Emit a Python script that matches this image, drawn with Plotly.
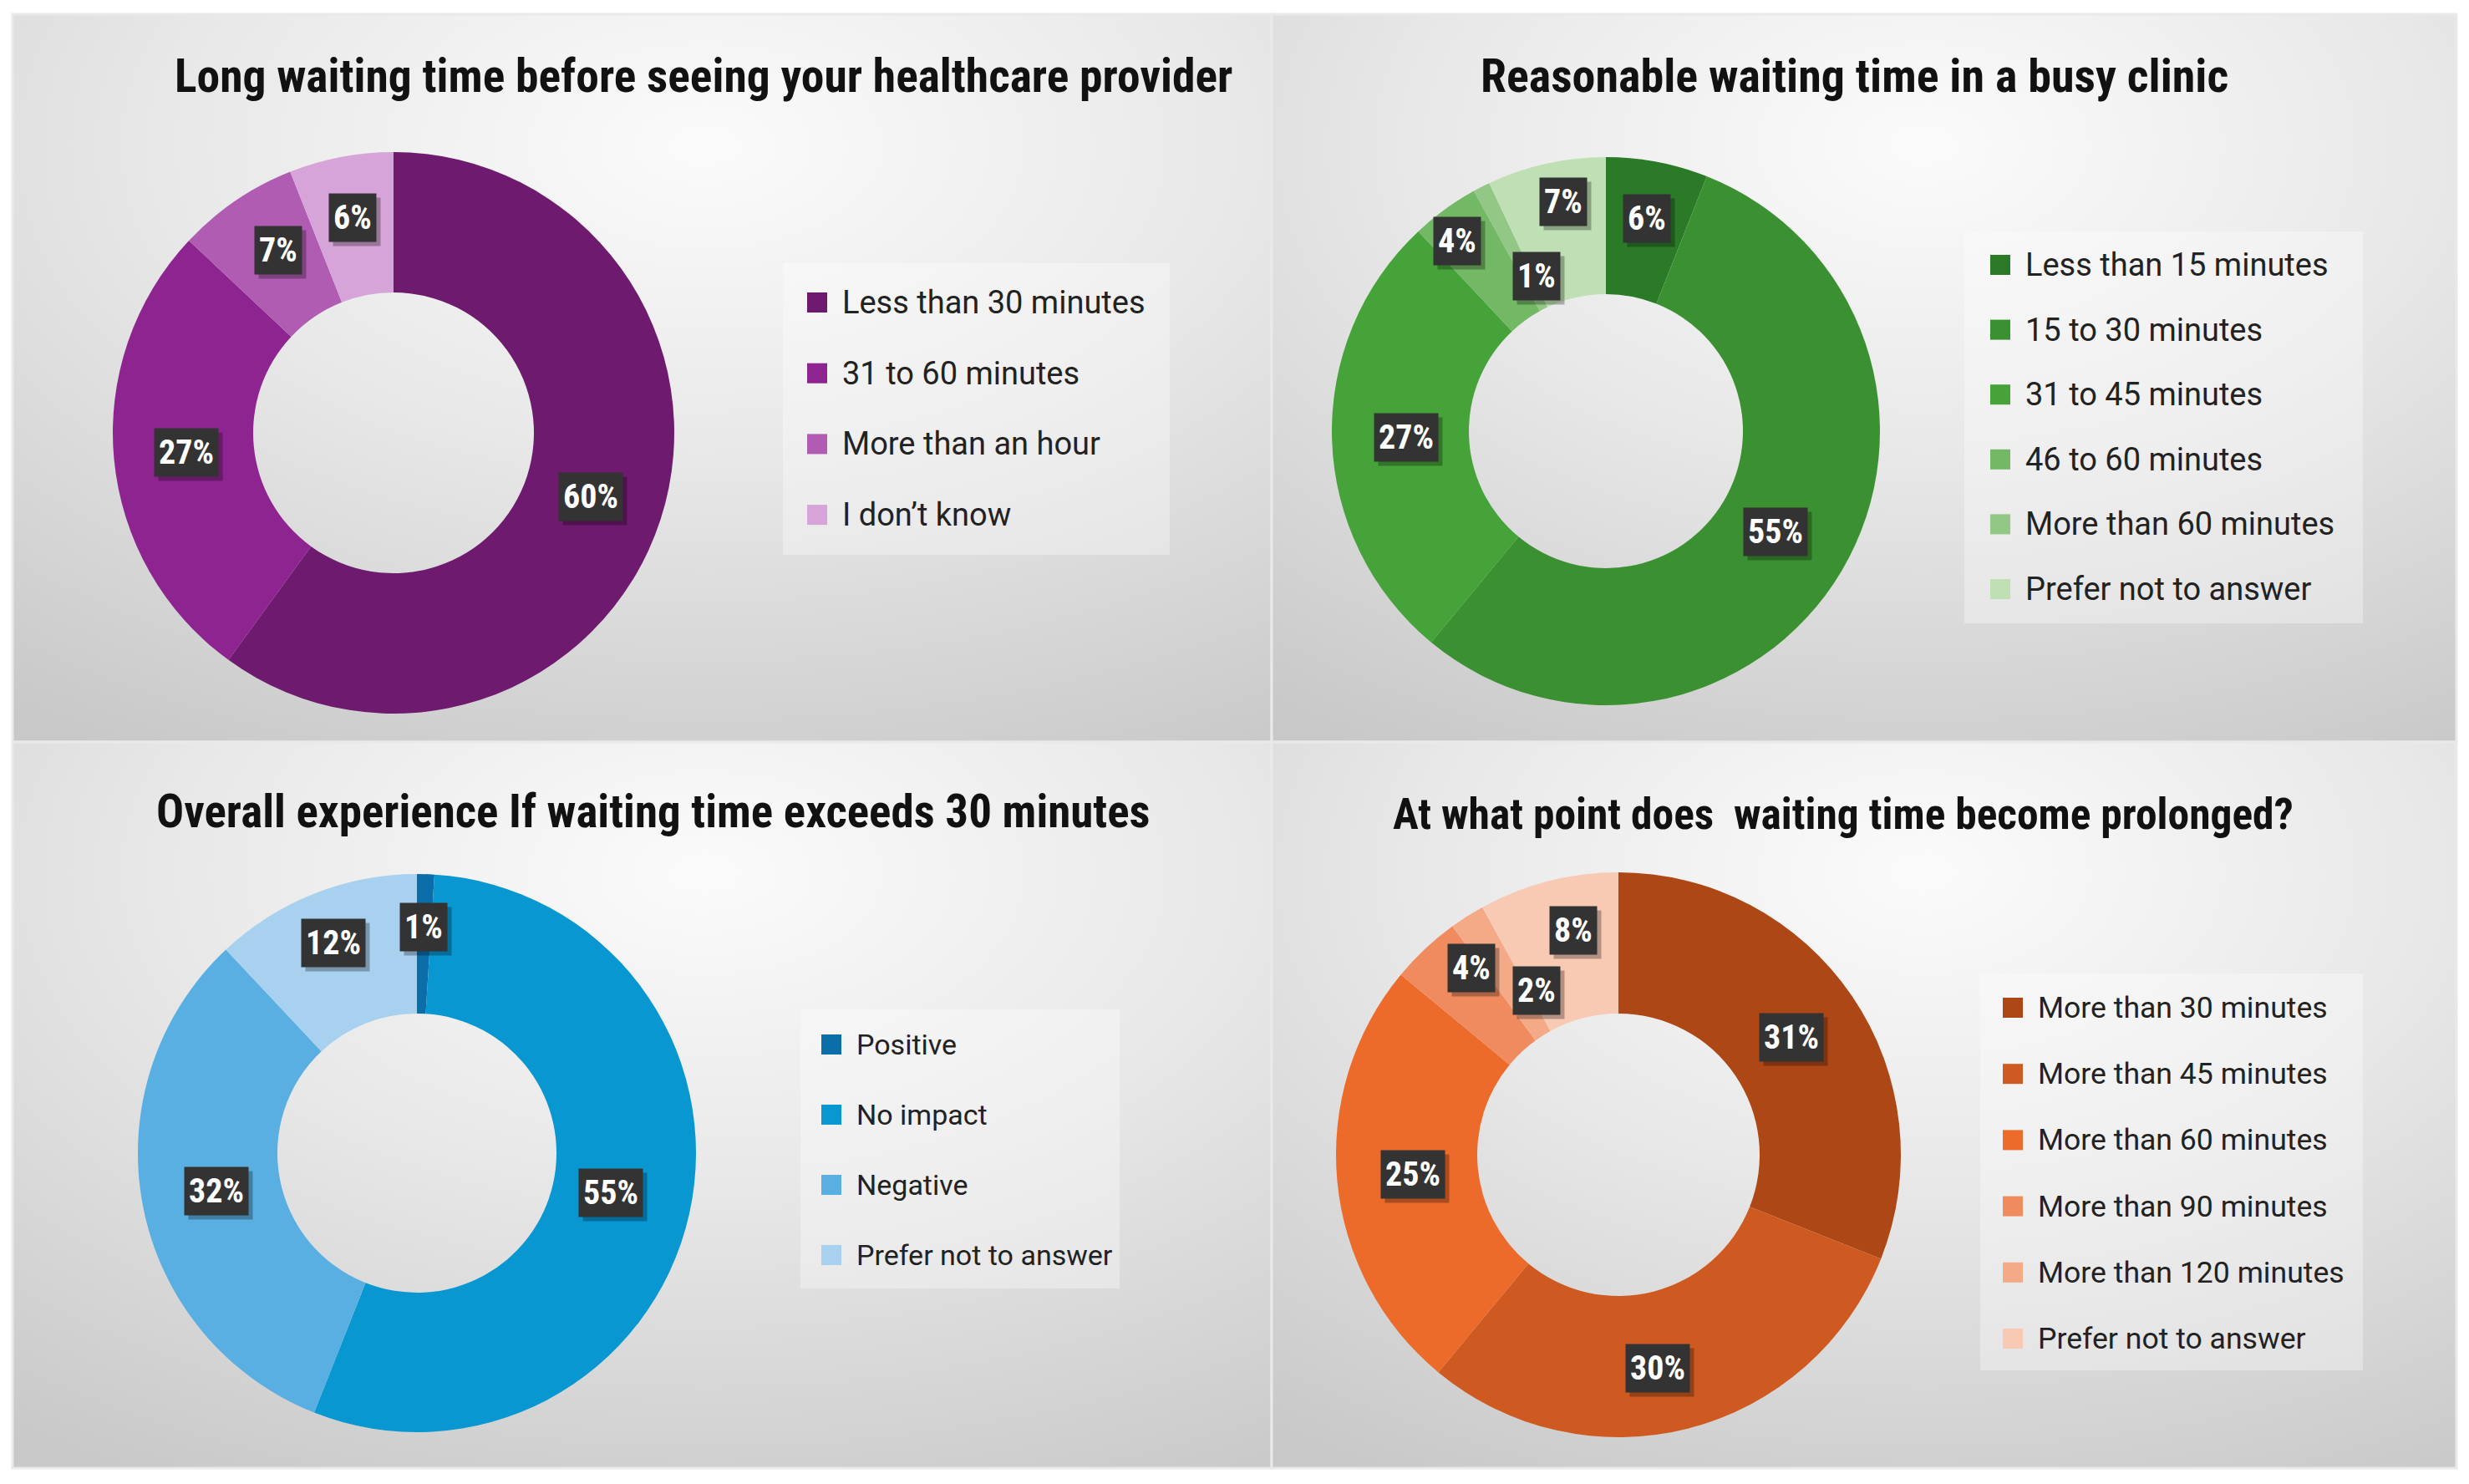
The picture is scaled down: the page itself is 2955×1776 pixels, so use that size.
import math
import base64
import plotly.graph_objects as go

W, H = 2955, 1776

# ---------------- data ----------------
title1 = "Long waiting time before seeing your healthcare provider"
labels1 = ["Less than 30 minutes", "31 to 60 minutes", "More than an hour", "I don\u2019t know"]
values1 = [60, 27, 7, 6]

title2 = "Reasonable waiting time in a busy clinic"
labels2 = ["Less than 15 minutes", "15 to 30 minutes", "31 to 45 minutes",
           "46 to 60 minutes", "More than 60 minutes", "Prefer not to answer"]
values2 = [6, 55, 27, 4, 1, 7]

title3 = "Overall experience If waiting time exceeds 30 minutes"
labels3 = ["Positive", "No impact", "Negative", "Prefer not to answer"]
values3 = [1, 55, 32, 12]

title4 = "At what point does  waiting time become prolonged?"
labels4 = ["More than 30 minutes", "More than 45 minutes", "More than 60 minutes",
           "More than 90 minutes", "More than 120 minutes", "Prefer not to answer"]
values4 = [31, 30, 25, 4, 2, 8]

# ---------------- styles ----------------
colors1 = ["#6e1a6e", "#8e2490", "#b05cb2", "#d6a4d8"]
colors2 = ["#2b7a28", "#3b9132", "#46a33a", "#72b865", "#92c786", "#bfe0b5"]
colors3 = ["#0b6ea9", "#0897d1", "#5aafe2", "#a8d0ef"]
colors4 = ["#ad4716", "#cf5a21", "#ec6a2a", "#f08b5f", "#f4a987", "#f8cab4"]

# label placement tweaks (radial factor of outer radius, angle offset in degrees)
nudge1 = [(0.74, 0), (0.74, 0), (0.77, 2), (0.78, 0)]
nudge2 = [(0.79, 0), (0.72, 0), (0.73, 0), (0.88, -2), (0.62, 3), (0.85, 2)]
nudge3 = [(0.81, 0), (0.71, -1), (0.73, 0), (0.81, 0)]
nudge4 = [(0.74, 0), (0.77, 4), (0.73, 0), (0.84, 5), (0.65, 6), (0.81, 3)]

panels = [
    dict(title=title1, labels=labels1, values=values1, colors=colors1, nudge=nudge1,
         cx=471, cy=518, r=336, tx=842, ty=91, tsize=55.5,
         box=(937, 315, 1400, 664), lx=978, ly0=362, ldy=84.7, lsize=38),
    dict(title=title2, labels=labels2, values=values2, colors=colors2, nudge=nudge2,
         cx=1922, cy=516, r=328, tx=2219, ty=91, tsize=56,
         box=(2351, 277, 2828, 746), lx=2394, ly0=317, ldy=77.6, lsize=38),
    dict(title=title3, labels=labels3, values=values3, colors=colors3, nudge=nudge3,
         cx=499, cy=1380, r=334, tx=782, ty=971, tsize=55,
         box=(958, 1208, 1340, 1542), lx=995, ly0=1250, ldy=84, lsize=34),
    dict(title=title4, labels=labels4, values=values4, colors=colors4, nudge=nudge4,
         cx=1937, cy=1382, r=338, tx=2206, ty=974, tsize=51.5,
         box=(2370, 1165, 2828, 1640), lx=2409, ly0=1206, ldy=79.2, lsize=35.6),
]

TITLE_FONT = "Liberation Sans Narrow, Roboto Condensed, Arial Narrow, DejaVu Sans Condensed, sans-serif"
LEGEND_FONT = "Roboto, Liberation Sans, sans-serif"
HOLE = 0.5


def px(x):
    return x / W


def py(y):
    return 1 - y / H


# ---------------- background (radial gradients per panel) ----------------
panel_rects = [(15, 17, 1522, 888), (1522, 17, 2940, 888),
               (15, 888, 1522, 1757), (1522, 888, 2940, 1757)]
svg = [f"<svg xmlns='http://www.w3.org/2000/svg' width='{W}' height='{H}' viewBox='0 0 {W} {H}'>",
       "<defs><radialGradient id='g' cx='0.55' cy='0.18' r='0.95'>"
       "<stop offset='0' stop-color='#fbfbfb'/><stop offset='0.45' stop-color='#e8e8e8'/>"
       "<stop offset='1' stop-color='#c8c8c8'/></radialGradient></defs>",
       f"<rect x='0' y='0' width='{W}' height='{H}' fill='#ffffff'/>"]
for (x0, y0, x1, y1) in panel_rects:
    svg.append(f"<rect x='{x0}' y='{y0}' width='{x1 - x0}' height='{y1 - y0}' fill='url(#g)' "
               f"stroke='#e9e9e9' stroke-width='3'/>")
svg.append("</svg>")
bg_uri = "data:image/svg+xml;base64," + base64.b64encode("".join(svg).encode()).decode()

fig = go.Figure()
annotations = []
shapes = []

for p in panels:
    cx, cy, r = p["cx"], p["cy"], p["r"]
    fig.add_trace(go.Pie(
        labels=p["labels"], values=p["values"],
        marker=dict(colors=p["colors"], line=dict(width=0)),
        hole=HOLE, sort=False, direction="clockwise", rotation=0,
        textinfo="none", showlegend=False, hoverinfo="label+percent",
        domain=dict(x=[px(cx - r), px(cx + r)], y=[py(cy + r), py(cy - r)]),
    ))

    # data labels in dark boxes
    total = sum(p["values"])
    cum = 0
    for v, (rf, dang) in zip(p["values"], p["nudge"]):
        mid = (cum + v / 2) / total * 360 + dang
        cum += v
        ang = math.radians(mid)
        lx = cx + rf * r * math.sin(ang)
        ly = cy - rf * r * math.cos(ang)
        txt = f"{round(v / total * 100)}%"
        common = dict(xref="paper", yref="paper", x=px(lx), y=py(ly), text=txt,
                      showarrow=False, borderpad=5, xanchor="center", yanchor="middle")
        annotations.append(dict(common, bgcolor="rgba(0,0,0,0.28)", xshift=5, yshift=-5,
                                font=dict(family=TITLE_FONT, size=40, color="rgba(0,0,0,0)", weight=700)))
        annotations.append(dict(common, bgcolor="#333333",
                                font=dict(family=TITLE_FONT, size=40, color="#ffffff", weight=700)))

    # title
    annotations.append(dict(xref="paper", yref="paper", x=px(p["tx"]), y=py(p["ty"]),
                            text=p["title"], showarrow=False, xanchor="center", yanchor="middle",
                            font=dict(family=TITLE_FONT, size=p["tsize"], color="#111111", weight=700)))

    # legend box
    bx0, by0, bx1, by1 = p["box"]
    shapes.append(dict(type="rect", xref="paper", yref="paper", layer="below",
                       x0=px(bx0), x1=px(bx1), y0=py(by1), y1=py(by0),
                       fillcolor="rgba(255,255,255,0.33)", line=dict(width=0)))
    sw = 24
    for i, (lab, col) in enumerate(zip(p["labels"], p["colors"])):
        yc = p["ly0"] + i * p["ldy"]
        shapes.append(dict(type="rect", xref="paper", yref="paper",
                           x0=px(p["lx"] - sw / 2), x1=px(p["lx"] + sw / 2),
                           y0=py(yc + sw / 2), y1=py(yc - sw / 2),
                           fillcolor=col, line=dict(width=0)))
        annotations.append(dict(xref="paper", yref="paper", x=px(p["lx"] + 28), y=py(yc),
                                text=lab, showarrow=False, xanchor="left", yanchor="middle",
                                font=dict(family=LEGEND_FONT, size=p["lsize"], color="#222222")))

fig.update_layout(
    width=W, height=H, autosize=False,
    margin=dict(l=0, r=0, t=0, b=0),
    paper_bgcolor="#ffffff", plot_bgcolor="rgba(0,0,0,0)",
    images=[dict(source=bg_uri, xref="paper", yref="paper", x=0, y=1, sizex=1, sizey=1,
                 xanchor="left", yanchor="top", sizing="stretch", layer="below")],
    annotations=annotations, shapes=shapes,
)

fig.write_html("out.html", config={"displayModeBar": False},
               post_script="document.body.style.margin='0';document.body.style.overflow='hidden';")
